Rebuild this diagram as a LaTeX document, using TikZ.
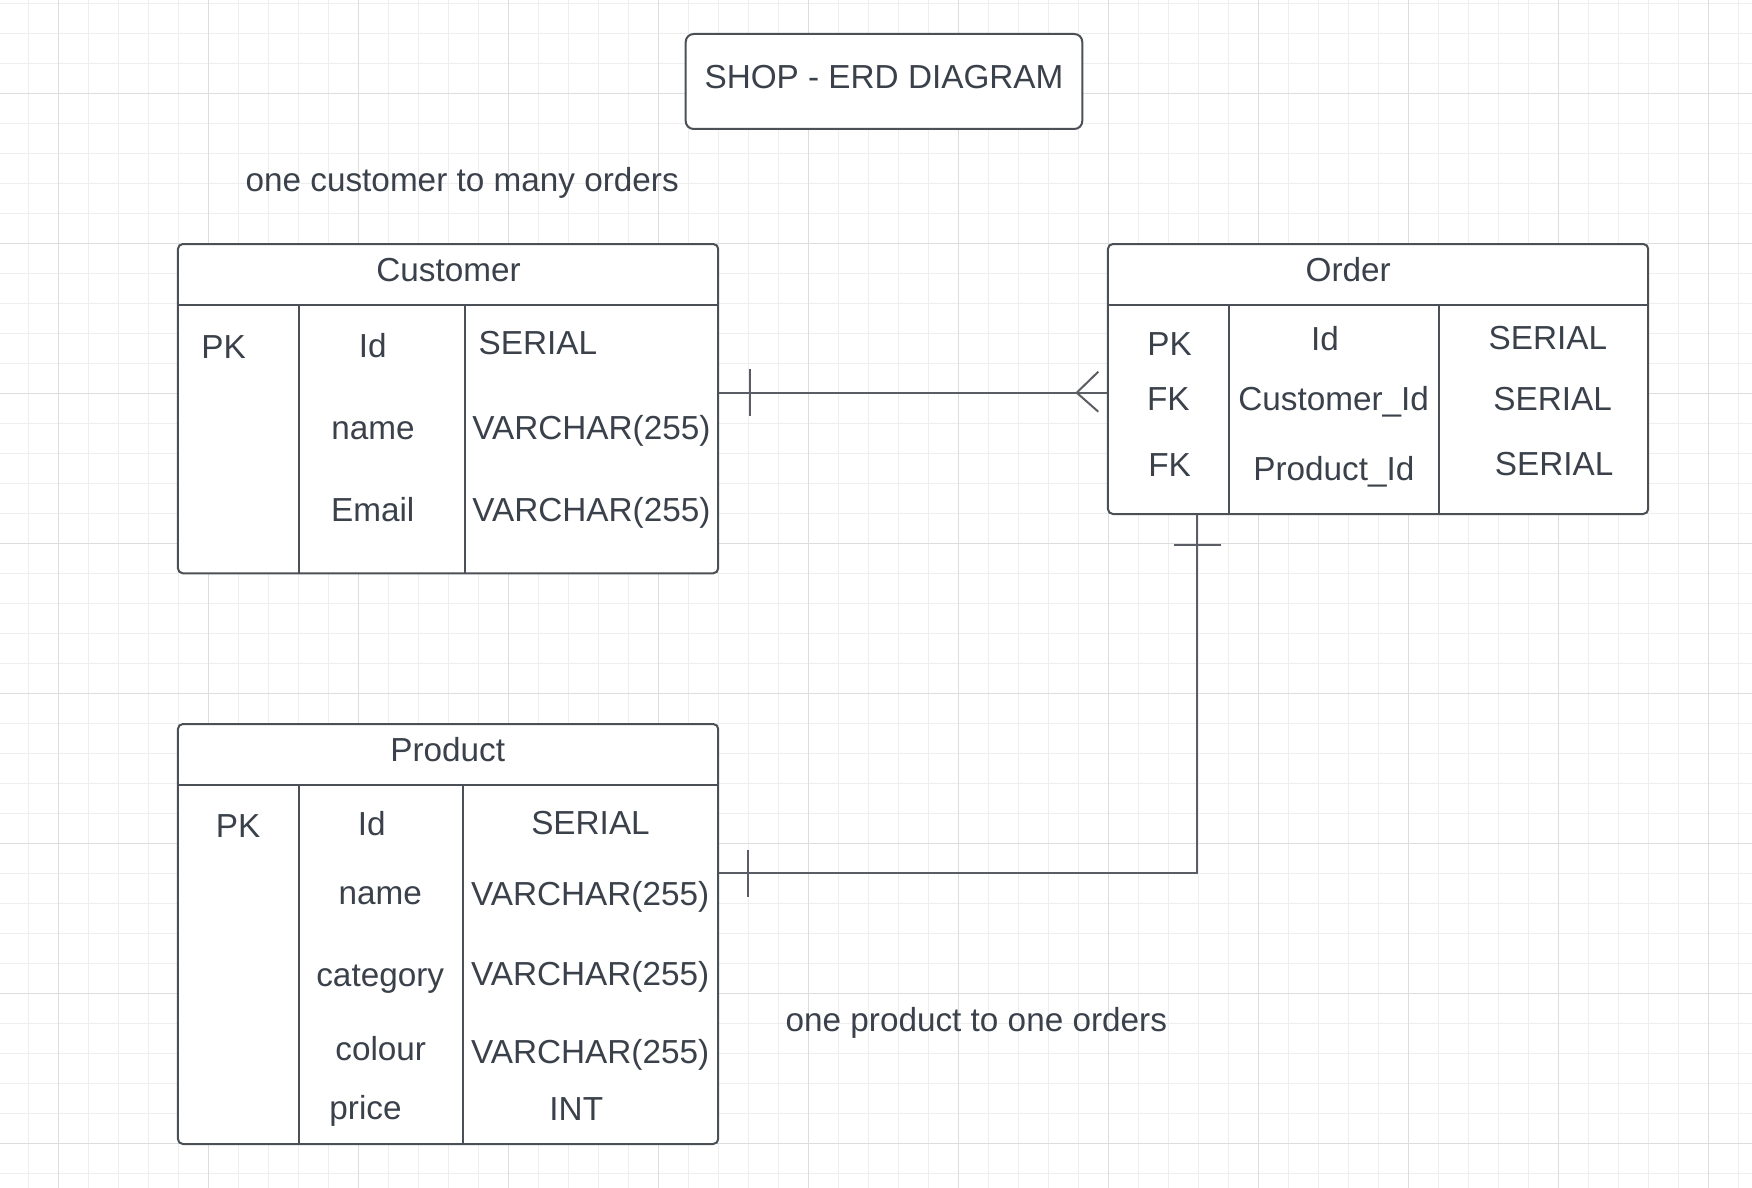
\documentclass[tikz,border=0pt]{standalone}
\usepackage{fontspec}
\setmainfont{Liberation Sans}
\usetikzlibrary{fit,calc}
\definecolor{txt}{HTML}{3A414A}
\definecolor{ln}{HTML}{4B5056}
\definecolor{cn}{HTML}{5A5E64}
\definecolor{gminor}{HTML}{EEEEEE}
\definecolor{gmajor}{HTML}{DDDDDD}
\begin{document}
\begin{tikzpicture}[x=0.5pt,y=-0.5pt,
  lbl/.style={font=\fontsize{16.65pt}{19.5pt}\selectfont, text=txt, anchor=base, inner sep=0pt},
  tbl/.style={draw=ln, fill=white, line width=1pt, rounded corners=2.5pt, inner sep=0pt},
  titlebox/.style={draw=ln, fill=white, line width=1pt, rounded corners=4pt, inner sep=0pt},
  divider/.style={draw=ln, line width=0.9pt},
  conn/.style={draw=cn, line width=1pt},
  gridminor/.style={draw=gminor, line width=0.5pt},
  gridmajor/.style={draw=gmajor, line width=0.6pt}]
% canvas
\fill[white] (0,0) rectangle (1752,1188);
\useasboundingbox (0,0) rectangle (1752,1188);
% grid
\foreach \k in {0,...,58} {\draw[gridminor] ({28.7+30*\k},0) -- ({28.7+30*\k},1188);}
\foreach \k in {0,...,39} {\draw[gridminor] (0,{3.3+30*\k}) -- (1752,{3.3+30*\k});}
\foreach \k in {0,...,11} {\draw[gridmajor] ({58.7+150*\k},0) -- ({58.7+150*\k},1188);}
\foreach \k in {0,...,7} {\draw[gridmajor] (0,{93.3+150*\k}) -- (1752,{93.3+150*\k});}

% corner coordinates
\coordinate (tA) at (685.7,34);   \coordinate (tB) at (1082.3,129);
\coordinate (cA) at (177.9,244);  \coordinate (cB) at (718.2,573.3);
\coordinate (oA) at (1107.9,244); \coordinate (oB) at (1648.2,514);
\coordinate (pA) at (177.9,724);  \coordinate (pB) at (718.2,1144);

% title
\node[titlebox, fit=(tA)(tB)] (title) {};
\node[lbl] (titletext) at (884,89) {SHOP - ERD DIAGRAM};

% labels
\node[lbl] (lab1) at (462.2,191.7) {one customer to many orders};
\node[lbl] (lab2) at (976.3,1031.7) {one product to one orders};

% Customer table
\node[tbl, fit=(cA)(cB)] (cust) {};
\draw[divider] (177.9,305) -- (718.2,305);
\draw[divider] (298.6,305) -- (298.6,573.3);
\draw[divider] (464.6,305) -- (464.6,573.3);
\node[lbl] (custT) at (448.6,281.7) {Customer};
\node[lbl] (custPK) at (223.6,358.3) {PK};
\node[lbl] (custId) at (372.7,357.3) {Id};
\node[lbl] (custIdT) at (537.9,354) {SERIAL};
\node[lbl] (custName) at (373,439.3) {name};
\node[lbl] (custNameT) at (591.4,439.3) {VARCHAR(255)};
\node[lbl] (custEmail) at (372.7,521) {Email};
\node[lbl] (custEmailT) at (591.4,521) {VARCHAR(255)};

% Order table
\node[tbl, fit=(oA)(oB)] (ord) {};
\draw[divider] (1107.9,305) -- (1648.2,305);
\draw[divider] (1228.6,305) -- (1228.6,514);
\draw[divider] (1438.6,305) -- (1438.6,514);
\node[lbl] (ordT) at (1348.2,281.7) {Order};
\node[lbl] (ordPK) at (1169.6,355) {PK};
\node[lbl] (ordId) at (1325,350) {Id};
\node[lbl] (ordIdT) at (1547.9,349) {SERIAL};
\node[lbl] (ordFK1) at (1168.4,410) {FK};
\node[lbl] (ordCid) at (1333.6,410) {Customer\_Id};
\node[lbl] (ordCidT) at (1552.7,410) {SERIAL};
\node[lbl] (ordFK2) at (1169.6,476.7) {FK};
\node[lbl] (ordPid) at (1333.9,480) {Product\_Id};
\node[lbl] (ordPidT) at (1554.1,475) {SERIAL};

% Product table
\node[tbl, fit=(pA)(pB)] (prod) {};
\draw[divider] (177.9,785) -- (718.2,785);
\draw[divider] (298.6,785) -- (298.6,1144);
\draw[divider] (462.9,785) -- (462.9,1144);
\node[lbl] (prodT) at (447.7,761.7) {Product};
\node[lbl] (prodPK) at (238.2,837.3) {PK};
\node[lbl] (prodId) at (371.8,835) {Id};
\node[lbl] (prodIdT) at (590.5,834) {SERIAL};
\node[lbl] (prodName) at (380.2,904) {name};
\node[lbl] (prodNameT) at (590.2,905) {VARCHAR(255)};
\node[lbl] (prodCat) at (380.2,986) {category};
\node[lbl] (prodCatT) at (590.2,985) {VARCHAR(255)};
\node[lbl] (prodCol) at (380.7,1060.7) {colour};
\node[lbl] (prodColT) at (590.2,1063.3) {VARCHAR(255)};
\node[lbl] (prodPrice) at (365.5,1119.3) {price};
\node[lbl] (prodPriceT) at (576.3,1120) {INT};

% connector customer -> order (one to many)
\coordinate (y1) at (0,392.7);
\draw[conn] (cust.east |- y1) -- (ord.west |- y1);
\draw[conn] ($(cust.east |- y1)+(31,-23.3)$) -- ++(0,46.6);
\draw[conn] ($(ord.west |- y1)+(-8.6,-21)$) -- ($(ord.west |- y1)+(-30.2,0)$) -- ($(ord.west |- y1)+(-8.6,19)$);

% connector order -> product (one to one)
\coordinate (x2) at (1197.3,0);
\coordinate (y2) at (0,873.3);
\draw[conn] (ord.south -| x2) |- (prod.east |- y2);
\draw[conn] ($(ord.south -| x2)+(-23.7,30.3)$) -- ++(47.4,0);
\draw[conn] ($(prod.east |- y2)+(28.6,-23.5)$) -- ++(0,47);
\end{tikzpicture}
\end{document}
